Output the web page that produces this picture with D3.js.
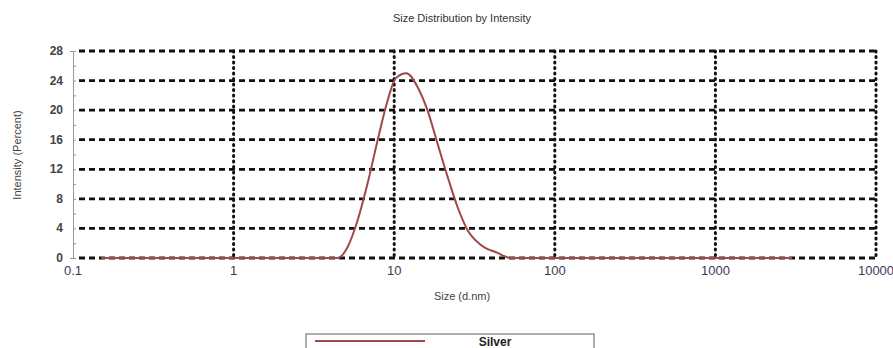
<!DOCTYPE html>
<html>
<head>
<meta charset="utf-8">
<script src="https://cdn.jsdelivr.net/npm/d3@7"></script>
<style>
  body { margin: 0; background: #fff; }
  text { font-family: "Liberation Sans", Arial, sans-serif; }
</style>
</head>
<body>
<svg id="chart" width="893" height="348"></svg>
<script>
// values
const sizes = [0.15, 4.44, 5.13, 5.92, 6.83, 7.88, 9.1, 10.2, 11.9, 14.0, 16.1, 18.6, 21.5, 24.8, 28.6, 34.5, 44, 53, 3000];
const intensity = [0, 0, 1.5, 5.1, 10.1, 15.9, 21.3, 24.3, 25.0, 23.1, 20.0, 15.5, 11.0, 6.9, 3.8, 1.8, 0.7, 0, 0];
const xTicks = [0.1, 1, 10, 100, 1000, 10000];
const yTicks = [0, 4, 8, 12, 16, 20, 24, 28];
const seriesName = "Silver";

const svg = d3.select("#chart");

const x = d3.scaleLog().domain([0.1, 10000]).range([73, 876]);
const y = d3.scaleLinear().domain([0, 28]).range([258, 51]);

// title
svg.append("text")
  .attr("x", 462).attr("y", 22)
  .attr("text-anchor", "middle")
  .attr("font-size", 11)
  .attr("fill", "#333")
  .text("Size Distribution by Intensity");

// horizontal dashed grid
svg.append("g").selectAll("line")
  .data(yTicks)
  .join("line")
  .attr("x1", x(0.1) + 6).attr("x2", x(10000))
  .attr("y1", d => y(d)).attr("y2", d => y(d))
  .attr("stroke", "#111")
  .attr("stroke-width", 2.8)
  .attr("stroke-dasharray", "6,4");

// vertical dotted grid
svg.append("g").selectAll("line")
  .data(xTicks.slice(1))
  .join("line")
  .attr("x1", d => x(d)).attr("x2", d => x(d))
  .attr("y1", y(28)).attr("y2", y(0))
  .attr("stroke", "#111")
  .attr("stroke-width", 3)
  .attr("stroke-linecap", "round")
  .attr("stroke-dasharray", "1,4.5");

// left axis (thin, with minor ticks)
const yAxis = svg.append("g")
  .attr("transform", `translate(${x(0.1)},0)`)
  .call(d3.axisLeft(y).tickValues(d3.range(0, 29, 2)).tickSize(3).tickFormat(""));
yAxis.select(".domain").attr("stroke", "#999");
yAxis.selectAll(".tick line").attr("stroke", "#999").attr("x2", 3);

// y tick labels
svg.append("g").selectAll("text")
  .data(yTicks)
  .join("text")
  .attr("x", 63).attr("y", d => y(d) + 4)
  .attr("text-anchor", "end")
  .attr("font-size", 12)
  .attr("font-weight", "bold")
  .attr("fill", "#444")
  .text(d => d);

// x tick labels
svg.append("g").selectAll("text")
  .data(xTicks)
  .join("text")
  .attr("x", d => x(d)).attr("y", 275)
  .attr("text-anchor", "middle")
  .attr("font-size", 13)
  .attr("fill", "#3a3a55")
  .text(d => d);

// axis titles
svg.append("text")
  .attr("transform", "translate(21,155) rotate(-90)")
  .attr("text-anchor", "middle")
  .attr("font-size", 11)
  .attr("fill", "#444")
  .text("Intensity (Percent)");

svg.append("text")
  .attr("x", 462).attr("y", 300)
  .attr("text-anchor", "middle")
  .attr("font-size", 11)
  .attr("fill", "#444")
  .text("Size (d.nm)");

// curve
const line = d3.line()
  .x((d, i) => x(sizes[i]))
  .y(d => y(d))
  .curve(d3.curveMonotoneX);

svg.append("path")
  .datum(intensity)
  .attr("d", line)
  .attr("fill", "none")
  .attr("stroke", "#a04848")
  .attr("stroke-width", 2);

// legend
svg.append("rect")
  .attr("x", 306).attr("y", 334)
  .attr("width", 288).attr("height", 30)
  .attr("fill", "#fff")
  .attr("stroke", "#777")
  .attr("stroke-width", 1.2);
svg.append("line")
  .attr("x1", 315).attr("x2", 425)
  .attr("y1", 341).attr("y2", 341)
  .attr("stroke", "#a04848")
  .attr("stroke-width", 2);
svg.append("text")
  .attr("x", 495).attr("y", 346)
  .attr("text-anchor", "middle")
  .attr("font-size", 12)
  .attr("font-weight", "bold")
  .attr("fill", "#222")
  .text(seriesName);
</script>
</body>
</html>
